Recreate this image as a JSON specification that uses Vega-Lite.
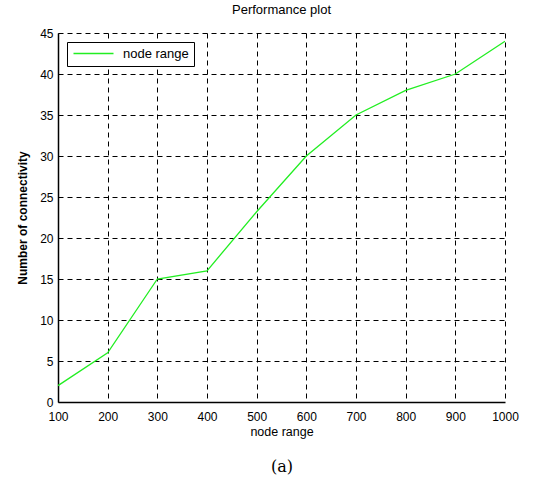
{
  "$schema": "https://vega.github.io/schema/vega-lite/v6.json",
  "autosize": {"type": "none"},
  "padding": {"left": 58, "top": 33, "right": 43, "bottom": 84},
  "width": 447,
  "height": 369,
  "background": "white",
  "title": {"text": "Performance plot", "fontSize": 13, "fontWeight": "normal", "font": "Liberation Sans", "color": "black", "offset": 10, "anchor": "middle"},
  "data": {"values": [
    {"x": 100, "y": 2, "s": "node range"},
    {"x": 200, "y": 6, "s": "node range"},
    {"x": 300, "y": 15, "s": "node range"},
    {"x": 400, "y": 16, "s": "node range"},
    {"x": 500, "y": 23.2, "s": "node range"},
    {"x": 600, "y": 30, "s": "node range"},
    {"x": 700, "y": 35, "s": "node range"},
    {"x": 800, "y": 38, "s": "node range"},
    {"x": 900, "y": 40, "s": "node range"},
    {"x": 1000, "y": 44, "s": "node range"}
  ]},
  "config": {
    "view": {"stroke": null},
    "axis": {"labelFont": "Liberation Sans", "labelFontSize": 12, "labelColor": "black", "titleFont": "Liberation Sans", "titleColor": "black", "domainColor": "black", "domainWidth": 1.5, "tickColor": "black", "gridColor": "black", "gridDash": [5, 4], "gridOpacity": 1, "gridWidth": 1, "tickSize": 0, "labelPadding": 5, "labelFlush": false}
  },
  "layer": [
    {
      "mark": {"type": "line", "strokeWidth": 1.3, "clip": true},
      "encoding": {
        "x": {"field": "x", "type": "quantitative", "scale": {"domain": [100, 1000], "nice": false}, "axis": {"values": [100, 200, 300, 400, 500, 600, 700, 800, 900, 1000], "format": "d", "labelPadding": 9, "title": "node range", "titleFontSize": 12.5, "titleFontWeight": "normal", "titlePadding": 3, "grid": true}},
        "y": {"field": "y", "type": "quantitative", "scale": {"domain": [0, 45], "nice": false}, "axis": {"values": [0, 5, 10, 15, 20, 25, 30, 35, 40, 45], "title": "Number of connectivity", "titleFontSize": 12, "titleFontWeight": "bold", "titlePadding": 10, "grid": true}},
        "color": {"field": "s", "type": "nominal", "scale": {"range": ["#22ee22"]}, "legend": {"title": null, "orient": "top-left", "offset": 9, "strokeColor": "black", "fillColor": "white", "padding": 5, "symbolType": "M-4,0H4", "symbolSize": 100, "symbolOffset": 15, "symbolStrokeWidth": 1.5, "labelFont": "Liberation Sans", "labelFontSize": 13, "labelColor": "black", "labelOffset": 23}}
      }
    },
    {
      "mark": {"type": "rule", "opacity": 0},
      "encoding": {
        "x": {"datum": 100, "type": "quantitative", "scale": {"domain": [100, 1000], "nice": false}, "axis": {"orient": "bottom", "title": "(a)", "titleFont": "DejaVu Serif", "titleFontSize": 16, "titleFontWeight": "normal", "titlePadding": 56, "labels": false, "ticks": false, "domain": false, "grid": false}}
      }
    }
  ],
  "resolve": {"axis": {"x": "independent"}}
}
